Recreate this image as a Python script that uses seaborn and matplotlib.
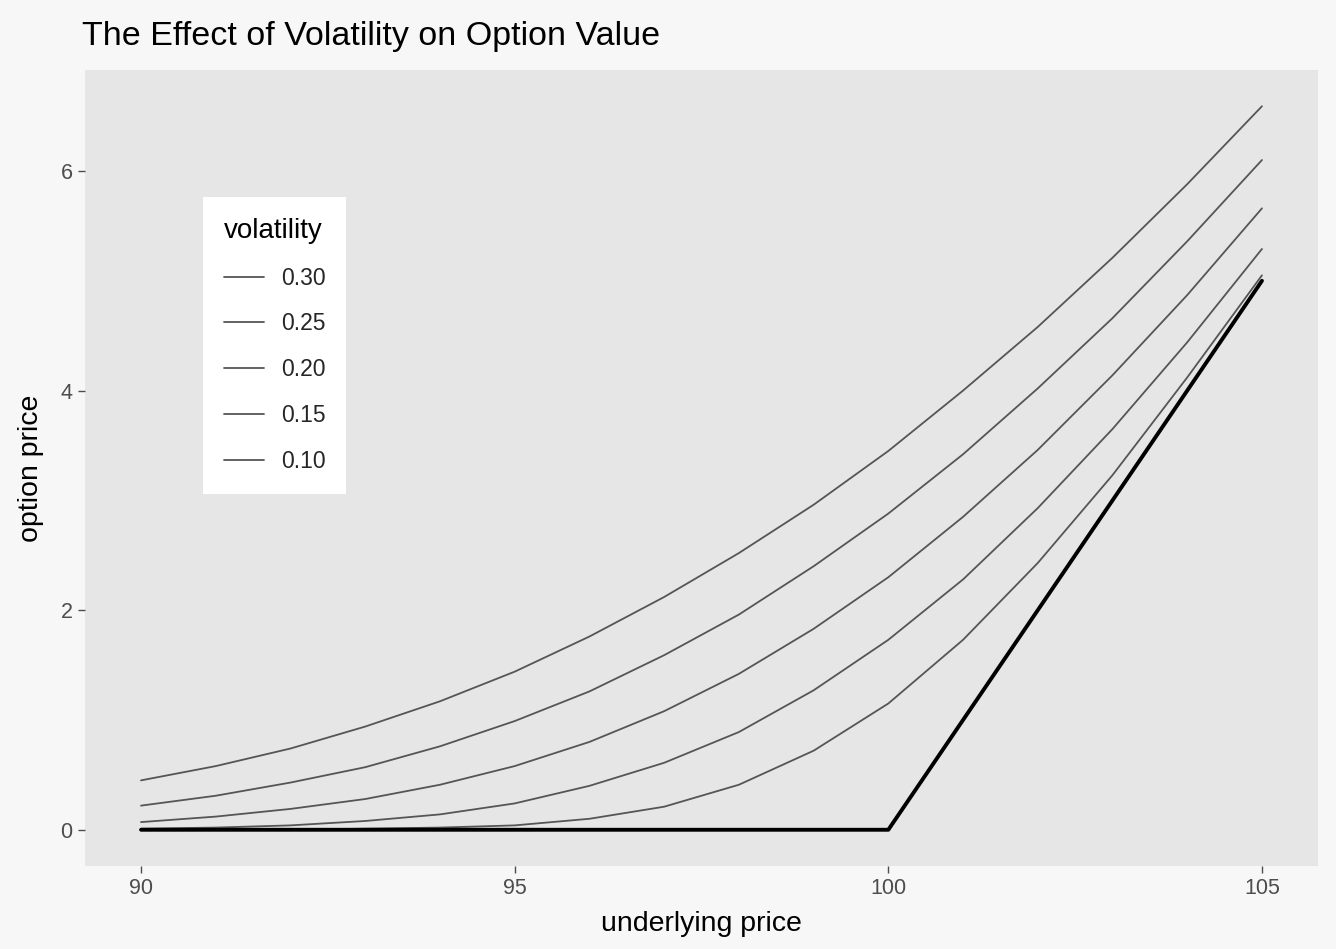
import pandas as pd
import seaborn as sns
import matplotlib.pyplot as plt

# Option values (one month to expiry, strike 100)
underlying = [90, 91, 92, 93, 94, 95, 96, 97, 98, 99, 100, 101, 102, 103, 104, 105]
vol_30 = [0.45, 0.58, 0.74, 0.94, 1.17, 1.44, 1.76, 2.12, 2.52, 2.96, 3.45, 4.00, 4.58, 5.21, 5.88, 6.59]
vol_25 = [0.22, 0.31, 0.43, 0.57, 0.76, 0.99, 1.26, 1.59, 1.96, 2.40, 2.88, 3.42, 4.02, 4.66, 5.36, 6.10]
vol_20 = [0.07, 0.12, 0.19, 0.28, 0.41, 0.58, 0.80, 1.08, 1.42, 1.83, 2.30, 2.85, 3.46, 4.14, 4.87, 5.66]
vol_15 = [0.01, 0.02, 0.04, 0.08, 0.14, 0.24, 0.40, 0.61, 0.89, 1.27, 1.73, 2.28, 2.93, 3.65, 4.44, 5.29]
vol_10 = [0.00, 0.00, 0.00, 0.01, 0.02, 0.04, 0.10, 0.21, 0.41, 0.72, 1.15, 1.73, 2.43, 3.23, 4.12, 5.05]
intrinsic = [0, 0, 0, 0, 0, 0, 0, 0, 0, 0, 0, 1, 2, 3, 4, 5]
vol_labels = ['0.30', '0.25', '0.20', '0.15', '0.10']
x_ticks = [90, 95, 100, 105]
y_ticks = [0, 2, 4, 6]

# Long format for seaborn
frames = []
for lab, vals in zip(vol_labels, [vol_30, vol_25, vol_20, vol_15, vol_10]):
    frames.append(pd.DataFrame({'underlying': underlying, 'price': vals, 'volatility': lab}))
data = pd.concat(frames, ignore_index=True)
payoff = pd.DataFrame({'underlying': underlying, 'price': intrinsic})

sns.set_theme(style='dark')
plt.rcParams['font.family'] = ['Liberation Sans', 'DejaVu Sans']

fig = plt.figure(figsize=(13.36, 9.49), dpi=100, facecolor='#F7F7F7')
ax = fig.add_axes([85 / 1336, 1 - 866 / 949, (1318 - 85) / 1336, (866 - 70) / 949])
ax.set_facecolor('#E6E6E6')

sns.lineplot(data=data, x='underlying', y='price', hue='volatility',
             hue_order=vol_labels, palette=['#555555'] * 5, linewidth=1.3, ax=ax)
sns.lineplot(data=payoff, x='underlying', y='price', color='black',
             linewidth=2.8, legend=False, ax=ax)

ax.set_xlim(89.25, 105.75)
ax.set_ylim(-0.33, 6.92)
ax.set_xticks(x_ticks)
ax.set_yticks(y_ticks)
ax.grid(False)
for s in ax.spines.values():
    s.set_visible(False)
ax.tick_params(axis='both', which='major', bottom=True, left=True, length=5, width=1,
               color='#4D4D4D', labelcolor='#4D4D4D', labelsize=15.5, pad=4)

ax.set_xlabel('underlying price', fontsize=20.5, color='black', labelpad=8)
ax.set_ylabel('option price', fontsize=20.5, color='black', labelpad=12)
fig.text(82 / 1336, 1 - 36 / 949, 'The Effect of Volatility on Option Value',
         fontsize=24.5, va='center', ha='left', color='black')

sns.move_legend(ax, loc='upper left', bbox_to_anchor=(203 / 1336, 1 - 197 / 949),
                bbox_transform=fig.transFigure, title='volatility', frameon=True,
                fontsize=16.5, title_fontsize=20, handlelength=1.75, handletextpad=0.75,
                labelspacing=1.0, borderpad=0.9, borderaxespad=0, fancybox=False)
leg = ax.get_legend()
leg.get_frame().set_facecolor('white')
leg.get_frame().set_edgecolor('none')
leg.get_frame().set_alpha(1)
leg.get_title().set_color('black')
leg._legend_box.align = 'left'

fig.savefig('out.png', dpi=100, facecolor=fig.get_facecolor())
